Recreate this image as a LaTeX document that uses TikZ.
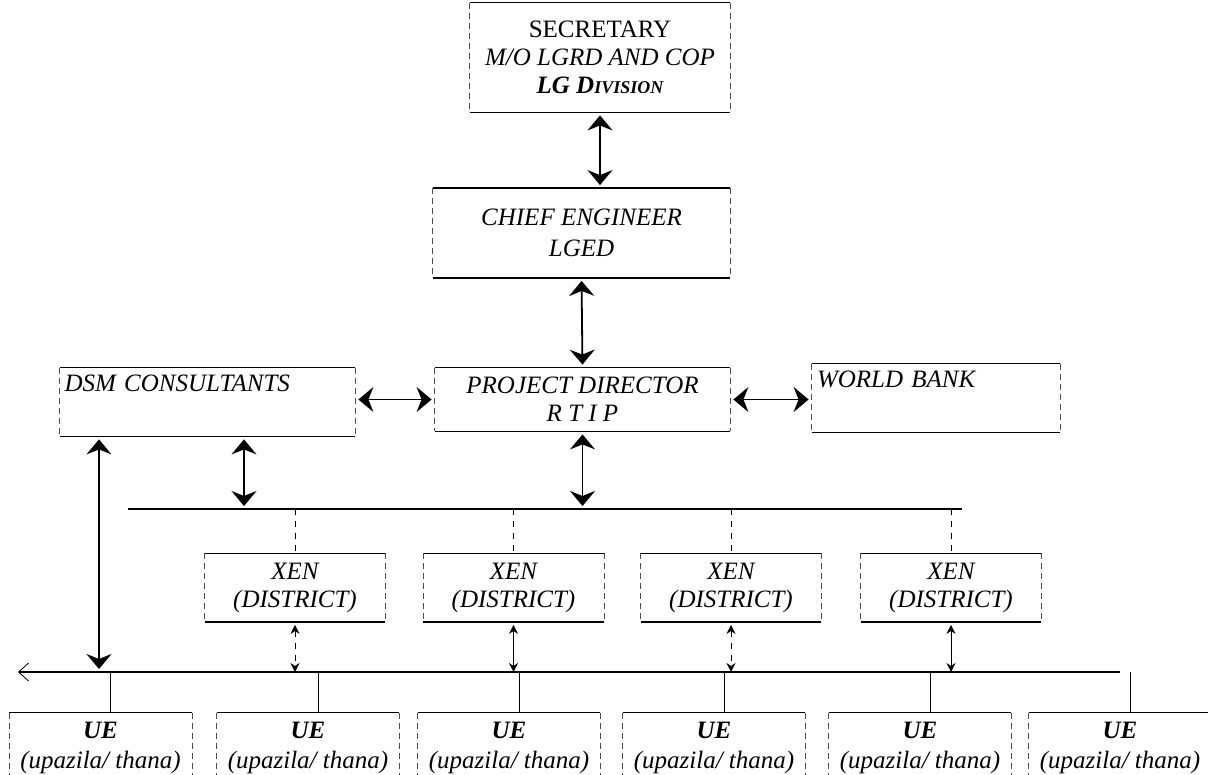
\documentclass[tikz,border=0pt]{standalone}
\usepackage{fontspec}
\setmainfont{Liberation Serif}
\usetikzlibrary{arrows.meta}

\tikzset{
	unit/.style={inner sep=2pt, align=center, font=\itshape\fontsize{12.5}{14}\selectfont},
	bidir/.style={<->, >={Stealth[width=12.5pt,length=7.5pt,inset=2.5pt]}, line width=0.9pt, shorten <=1.5pt, shorten >=1.5pt},
	tiny bidir/.style={<->, >={Stealth[width=4.5pt,length=4.5pt]}, line width=0.5pt, shorten <=1.5pt},
	bus/.style={line width=0.7pt},
	tie/.style={line width=0.4pt},
	rim/.style={line width=0.6pt},
	side/.style={densely dashed, line width=0.3pt, black!70}
}

\begin{document}
\begin{tikzpicture}[x=0.5pt,y=-0.5pt]
	\useasboundingbox (0,0) rectangle (1208,775);
	\clip (0,0) rectangle (1208,775);

	\node [unit, minimum width=130pt, minimum height=54.5pt] at (600,57.5) (sec) {{\upshape SECRETARY}\\M/O LGRD AND COP\\\textbf{LG D{\small IVISION}}};
	\node [unit, minimum width=148.5pt, minimum height=44.5pt, font=\itshape\fontsize{12.5}{15.5}\selectfont] at (581.5,233) (chief) {CHIEF ENGINEER\\LGED};
	\node [unit, minimum width=147.5pt, minimum height=31.5pt] at (582.5,399.5) (pd) {PROJECT DIRECTOR\\R T I P};
	\node [unit, minimum width=147.5pt, minimum height=34pt, text width=143pt, align=left, text height=8pt, text depth=19pt] at (207.5,402) (dsm) {DSM CONSULTANTS};
	\node [unit, minimum width=124pt, minimum height=34pt, text width=119pt, align=left, text height=8pt, text depth=19pt] at (936,398) (wb) {WORLD BANK};

	\foreach \x/\n in {295/x1, 513.5/x2, 731/x3, 951/x4}
		\node [unit, minimum width=90pt, minimum height=34pt] at (\x,587.5) (\n) {XEN\\(DISTRICT)};
	\foreach \x/\n in {100.5/u1, 308/u2, 509/u3, 714/u4, 920/u5, 1120/u6}
		\node [unit, minimum width=91pt, minimum height=35pt, font=\itshape\fontsize{12.5}{15}\selectfont] at (\x,748) (\n) {\textbf{UE}\\(upazila/ thana)};

	% box rims
	\foreach \n in {sec,chief,pd,dsm,wb,x1,x2,x3,x4,u1,u2,u3,u4,u5,u6} {
		\draw [rim] (\n.north west) -- (\n.north east);
		\draw [rim] (\n.south west) -- (\n.south east);
		\draw [side] (\n.north west) -- (\n.south west);
		\draw [side] (\n.north east) -- (\n.south east);
	}

	\coordinate (b1w) at (128,509);
	\coordinate (b1e) at (962,509);
	\coordinate (b2w) at (18,672);
	\coordinate (b2e) at (1120,672);
	\coordinate (t1) at (244,509);
	\coordinate (t2) at (99,672);

	\draw [bidir] (sec.south) -- (sec.south |- chief.north);
	\draw [bidir] (chief.south) -- (pd.north);
	\draw [bidir] (pd.west -| dsm.east) -- (pd.west);
	\draw [bidir] (pd.east) -- (pd.east -| wb.west);
	\draw [bidir] (dsm.south -| t1) -- (t1);
	\draw [bidir] (pd.south) -- (pd.south |- b1w);
	\draw [bidir] (dsm.south -| t2) -- (t2);

	\draw [bus] (b1w) -- (b1e);
	\draw [bus, {Straight Barb[width=9pt,length=5pt,line width=0.4pt]}-] (b2w) -- (b2e);

	\foreach \n in {x1,x2,x3,x4}
		\draw [tie, dashed] (\n.north |- b1w) -- (\n.north);
	\foreach \n/\s in {x1/dashed, x2/solid, x3/dashed, x4/solid}
		\draw [tiny bidir, \s] (\n.south) -- (\n.south |- b2w);
	\foreach \n in {u1,u2,u3,u4,u5,u6}
		\draw [tie] ([xshift=5pt]\n.north) -- ([xshift=5pt]\n.north |- b2w);
\end{tikzpicture}
\end{document}
